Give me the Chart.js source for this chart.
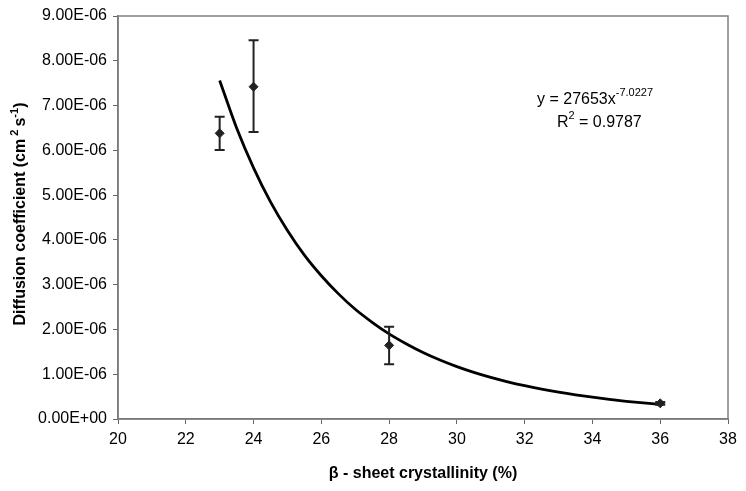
<!DOCTYPE html>
<html>
<head>
<meta charset="utf-8">
<script src="https://cdn.jsdelivr.net/npm/chart.js@4/dist/chart.umd.min.js"></script>
<style>
  html, body { margin: 0; padding: 0; background: #fff; }
  #wrap { width: 746px; height: 491px; }
</style>
</head>
<body>
<div id="wrap"><canvas id="chart" width="746" height="491"></canvas></div>
<script>
// measured points (β-sheet crystallinity %, diffusion coefficient cm² s⁻¹)
const crystX   = [23, 24, 28, 36];
const diffY    = [6.38e-6, 7.42e-6, 1.645e-6, 0.35e-6];
const errLow   = [6.01e-6, 6.41e-6, 1.22e-6, 0.32e-6];
const errHigh  = [6.75e-6, 8.46e-6, 2.06e-6, 0.38e-6];

// power trend line
const fitX = [23, 23.5, 24, 24.5, 25, 25.5, 26, 26.5, 27, 27.5, 28, 28.5, 29, 29.5, 30, 30.5, 31, 31.5, 32, 32.5, 33, 33.5, 34, 34.5, 35, 35.5, 36];
const fitY = [7.56e-6, 6.50e-6, 5.61e-6, 4.85e-6, 4.21e-6, 3.66e-6, 3.20e-6, 2.80e-6, 2.45e-6, 2.16e-6, 1.90e-6, 1.68e-6, 1.485e-6, 1.317e-6, 1.17e-6, 1.042e-6, 0.93e-6, 0.831e-6, 0.744e-6, 0.667e-6, 0.599e-6, 0.539e-6, 0.486e-6, 0.439e-6, 0.396e-6, 0.359e-6, 0.325e-6];

const xTicks = [20, 22, 24, 26, 28, 30, 32, 34, 36, 38];
const yTicks = [0, 1e-6, 2e-6, 3e-6, 4e-6, 5e-6, 6e-6, 7e-6, 8e-6, 9e-6];

const FONT = '"Liberation Sans", Arial, sans-serif';

function sciLabel(v) {
  const [m, e] = Number(v).toExponential(2).split('e');
  const n = parseInt(e, 10);
  return m + 'E' + (n < 0 ? '-' : '+') + String(Math.abs(n)).padStart(2, '0');
}

const errorBars = {
  id: 'errorBars',
  afterDatasetsDraw(chart) {
    const { ctx, scales: { x, y } } = chart;
    ctx.save();
    ctx.strokeStyle = '#222';
    ctx.lineWidth = 2;
    crystX.forEach((cx, i) => {
      const px = x.getPixelForValue(cx);
      const lo = y.getPixelForValue(errLow[i]);
      const hi = y.getPixelForValue(errHigh[i]);
      ctx.beginPath();
      ctx.moveTo(px, lo); ctx.lineTo(px, hi);
      ctx.moveTo(px - 5, lo); ctx.lineTo(px + 5, lo);
      ctx.moveTo(px - 5, hi); ctx.lineTo(px + 5, hi);
      ctx.stroke();
    });
    ctx.restore();
  }
};

const frame = {
  id: 'frame',
  beforeDatasetsDraw(chart) {
    const { ctx, chartArea: a } = chart;
    ctx.save();
    ctx.strokeStyle = '#808080';
    ctx.lineWidth = 1.5;
    ctx.strokeRect(a.left, a.top, a.right - a.left, a.bottom - a.top);
    ctx.restore();
  }
};

const texts = {
  id: 'texts',
  afterDraw(chart) {
    const { ctx, chartArea: a } = chart;
    ctx.save();
    ctx.fillStyle = '#000';
    // equation
    ctx.textBaseline = 'alphabetic';
    ctx.textAlign = 'left';
    ctx.font = '16px ' + FONT;
    const eq = 'y = 27653x';
    ctx.fillText(eq, 537, 104);
    const w = ctx.measureText(eq).width;
    ctx.font = '11px ' + FONT;
    ctx.fillText('-7.0227', 537 + w, 96);
    ctx.font = '16px ' + FONT;
    ctx.fillText('R', 557, 127);
    const wr = ctx.measureText('R').width;
    ctx.font = '11px ' + FONT;
    ctx.fillText('2', 557 + wr, 119);
    ctx.font = '16px ' + FONT;
    ctx.fillText(' = 0.9787', 557 + wr + 6, 127);

    // x axis title
    ctx.font = 'bold 16px ' + FONT;
    ctx.textAlign = 'center';
    ctx.fillText('β - sheet crystallinity (%)', (a.left + a.right) / 2, 478);

    // y axis title with superscripts
    ctx.translate(25, 214);
    ctx.rotate(-Math.PI / 2);
    const parts = [
      ['Diffusion coefficient (cm', 16, 0],
      [' 2 ', 11, -7],
      ['s', 16, 0],
      ['-1', 11, -7],
      [')', 16, 0]
    ];
    let total = 0;
    parts.forEach(p => { ctx.font = 'bold ' + p[1] + 'px ' + FONT; total += ctx.measureText(p[0]).width; });
    let cx = -total / 2;
    ctx.textAlign = 'left';
    parts.forEach(p => {
      ctx.font = 'bold ' + p[1] + 'px ' + FONT;
      ctx.fillText(p[0], cx, p[2]);
      cx += ctx.measureText(p[0]).width;
    });
    ctx.restore();
  }
};

new Chart(document.getElementById('chart'), {
  type: 'scatter',
  data: {
    datasets: [
      {
        label: 'Power fit',
        data: fitX.map((v, i) => ({ x: v, y: fitY[i] })),
        showLine: true,
        borderColor: '#000',
        borderWidth: 2.8,
        pointRadius: 0,
        cubicInterpolationMode: 'monotone',
        order: 2
      },
      {
        label: 'Measured',
        data: crystX.map((v, i) => ({ x: v, y: diffY[i] })),
        pointStyle: 'rectRot',
        pointRadius: 4.5,
        backgroundColor: '#222',
        borderColor: '#222',
        order: 1
      }
    ]
  },
  options: {
    responsive: false,
    animation: false,
    layout: { padding: { left: 0, top: 16, right: 18, bottom: 0 } },
    plugins: { legend: { display: false }, tooltip: { enabled: false } },
    scales: {
      x: {
        type: 'linear', min: 20, max: 38,
        afterBuildTicks: s => { s.ticks = xTicks.map(v => ({ value: v })); },
        afterFit: s => { s.height = 72; },
        grid: { drawOnChartArea: false, drawTicks: true, tickLength: 5, tickColor: '#666' },
        border: { color: '#666', width: 1.5 },
        ticks: { color: '#000', font: { family: FONT, size: 16 }, padding: 6 }
      },
      y: {
        type: 'linear', min: 0, max: 9e-6,
        afterBuildTicks: s => { s.ticks = yTicks.map(v => ({ value: v })); },
        afterFit: s => { s.width = 118; },
        grid: { drawOnChartArea: false, drawTicks: true, tickLength: 5, tickColor: '#666' },
        border: { color: '#666', width: 1.5 },
        ticks: { color: '#000', font: { family: FONT, size: 16 }, padding: 6, callback: v => sciLabel(v) }
      }
    }
  },
  plugins: [frame, errorBars, texts]
});
</script>
</body>
</html>
